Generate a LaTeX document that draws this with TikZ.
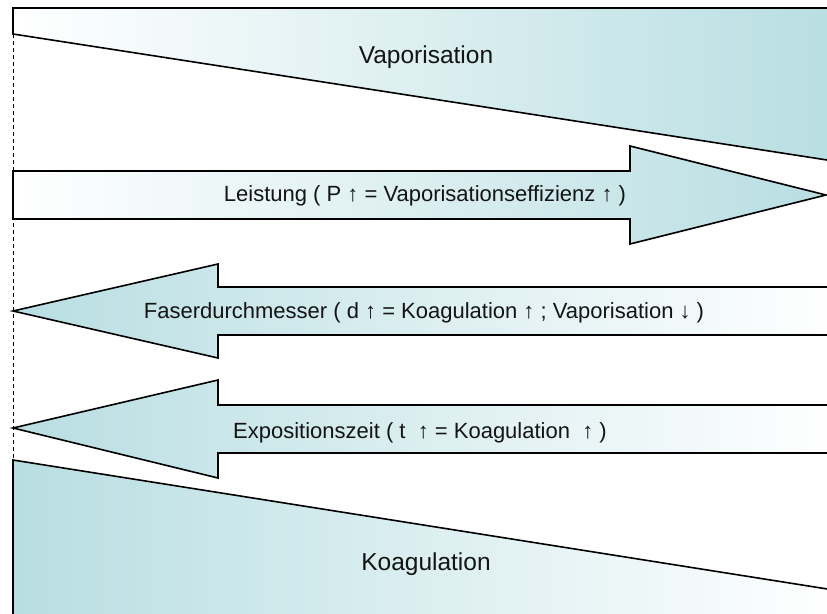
\documentclass[tikz,border=0pt]{standalone}
\usepackage{fontspec}
\setmainfont{Liberation Sans}
\definecolor{lightteal}{RGB}{184,222,226}
\definecolor{labelgray}{RGB}{20,20,20}
\begin{document}
\begin{tikzpicture}[x=1pt,y=-1pt,
    outline/.style={draw=black,line width=1.6pt,line join=miter},
    bigtext/.style={text=labelgray,font=\fontsize{24.5}{28}\selectfont},
    smalltext/.style={text=labelgray,font=\fontsize{22}{26}\selectfont}]

        \useasboundingbox (0,0) rectangle (827,613);
        \clip (0,0) rectangle (827,613);

        % vaporisation wedge (top)
        \shadedraw[outline, left color=white, right color=lightteal] (13,8) -- (840,8) -- (840,162) -- (13,34) -- cycle;

        % arrows
        \shadedraw[outline, left color=white, right color=lightteal] (13,171) -- (630,171) -- (630,146) -- (826,195) -- (630,244) -- (630,219) -- (13,219) -- cycle;
        \shadedraw[outline, left color=lightteal, right color=white] (13,311) -- (218,264) -- (218,287) -- (840,287) -- (840,335) -- (218,335) -- (218,358) -- cycle;
        \shadedraw[outline, left color=lightteal, right color=white] (13,428) -- (218,380) -- (218,405) -- (840,405) -- (840,453) -- (218,453) -- (218,478) -- cycle;

        % koagulation wedge (bottom)
        \shadedraw[outline, left color=lightteal, right color=white] (13,460) -- (840,591) -- (840,620) -- (13,620) -- cycle;

        \draw[dashed, line width=0.6pt, dash pattern=on 4pt off 3pt] (13,34) -- (13,460);

        \node[bigtext] (vap) at (426,57) {Vaporisation};
        \node[smalltext] (leistung) at (425,196) {Leistung ( P ↑ = Vaporisationseffizienz ↑ )};
        \node[smalltext] (faser) at (424,313) {Faserdurchmesser ( d ↑ = Koagulation ↑ ; Vaporisation ↓ )};
        \node[smalltext] (expo) at (420,433) {Expositionszeit ( t ~↑ = Koagulation ~↑ )};
        \node[bigtext] (koag) at (426,564) {Koagulation};

      \end{tikzpicture}
\end{document}
